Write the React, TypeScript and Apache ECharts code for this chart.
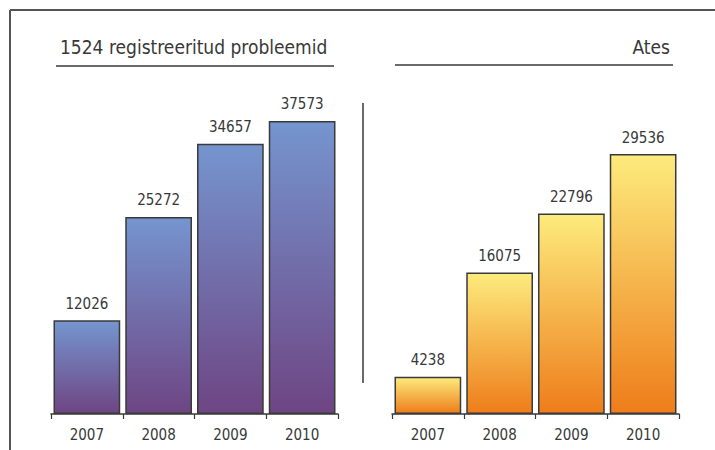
import React, { useEffect, useRef } from "react";
import * as echarts from "echarts";

const years = ["2007", "2008", "2009", "2010"];
const registeredProblems = [12026, 25272, 34657, 37573];
const atesValues = [4238, 16075, 22796, 29536];
const leftTitle = "1524 registreeritud probleemid";
const rightTitle = "Ates";

const FONT = "'Liberation Sans Narrow', 'DejaVu Sans Condensed', Arial, sans-serif";
const INK = "#383838";

function barStyle(top: string, bottom: string) {
  return {
    color: new echarts.graphic.LinearGradient(0, 0, 0, 1, [
      { offset: 0, color: top },
      { offset: 1, color: bottom },
    ]),
    borderColor: "#3a3a3a",
    borderWidth: 1.5,
  };
}

function categoryAxis(gridIndex: number) {
  return {
    type: "category" as const,
    gridIndex,
    data: years,
    axisLine: { show: true, lineStyle: { color: INK, width: 1.5 } },
    axisTick: { show: true, length: 5, lineStyle: { color: INK, width: 1.2 } },
    axisLabel: { color: INK, fontFamily: FONT, fontSize: 15, margin: 13 },
  };
}

function valueAxis(gridIndex: number, max: number) {
  return {
    type: "value" as const,
    gridIndex,
    min: 0,
    max,
    show: false,
    splitLine: { show: false },
  };
}

export default function App() {
  const ref = useRef<HTMLDivElement>(null);

  useEffect(() => {
    if (!ref.current) return;
    const chart = echarts.init(ref.current, undefined, { renderer: "svg" });
    const label = {
      show: true,
      position: "top" as const,
      distance: 9,
      color: INK,
      fontFamily: FONT,
      fontSize: 15,
    };
    chart.setOption({
      animation: false,
      backgroundColor: "#ffffff",
      grid: [
        { left: 51, right: 377, top: 102, bottom: 36 },
        { left: 392, right: 36, top: 106, bottom: 36 },
      ],
      xAxis: [categoryAxis(0), categoryAxis(1)],
      yAxis: [valueAxis(0, 40000), valueAxis(1, 35000)],
      series: [
        {
          type: "bar",
          xAxisIndex: 0,
          yAxisIndex: 0,
          data: registeredProblems,
          barCategoryGap: "7%",
          itemStyle: barStyle("#7595cf", "#6e4583"),
          label,
        },
        {
          type: "bar",
          xAxisIndex: 1,
          yAxisIndex: 1,
          data: atesValues,
          barCategoryGap: "7%",
          itemStyle: barStyle("#fdeb7d", "#ee7d1a"),
          label,
        },
      ],
      graphic: [
        // outer frame (top and left edges)
        { type: "line", shape: { x1: 10, y1: 10, x2: 715, y2: 10 }, style: { stroke: "#555555", lineWidth: 2 } },
        { type: "line", shape: { x1: 10, y1: 10, x2: 10, y2: 450 }, style: { stroke: "#555555", lineWidth: 2 } },
        // panel titles with underlines
        {
          type: "text",
          x: 60,
          y: 47,
          style: { text: leftTitle, fill: INK, font: `19px ${FONT}`, textVerticalAlign: "middle" },
        },
        { type: "line", shape: { x1: 56, y1: 66, x2: 334, y2: 66 }, style: { stroke: INK, lineWidth: 1.5 } },
        {
          type: "text",
          x: 670,
          y: 47,
          style: { text: rightTitle, fill: INK, font: `19px ${FONT}`, textAlign: "right", textVerticalAlign: "middle" },
        },
        { type: "line", shape: { x1: 395, y1: 65, x2: 673, y2: 65 }, style: { stroke: INK, lineWidth: 1.5 } },
        // divider between the two panels
        { type: "line", shape: { x1: 363, y1: 103, x2: 363, y2: 383 }, style: { stroke: INK, lineWidth: 1.5 } },
      ],
    });
    return () => chart.dispose();
  }, []);

  return (
    <div
      ref={ref}
      style={{ position: "fixed", left: 0, top: 0, width: 715, height: 450 }}
    />
  );
}
